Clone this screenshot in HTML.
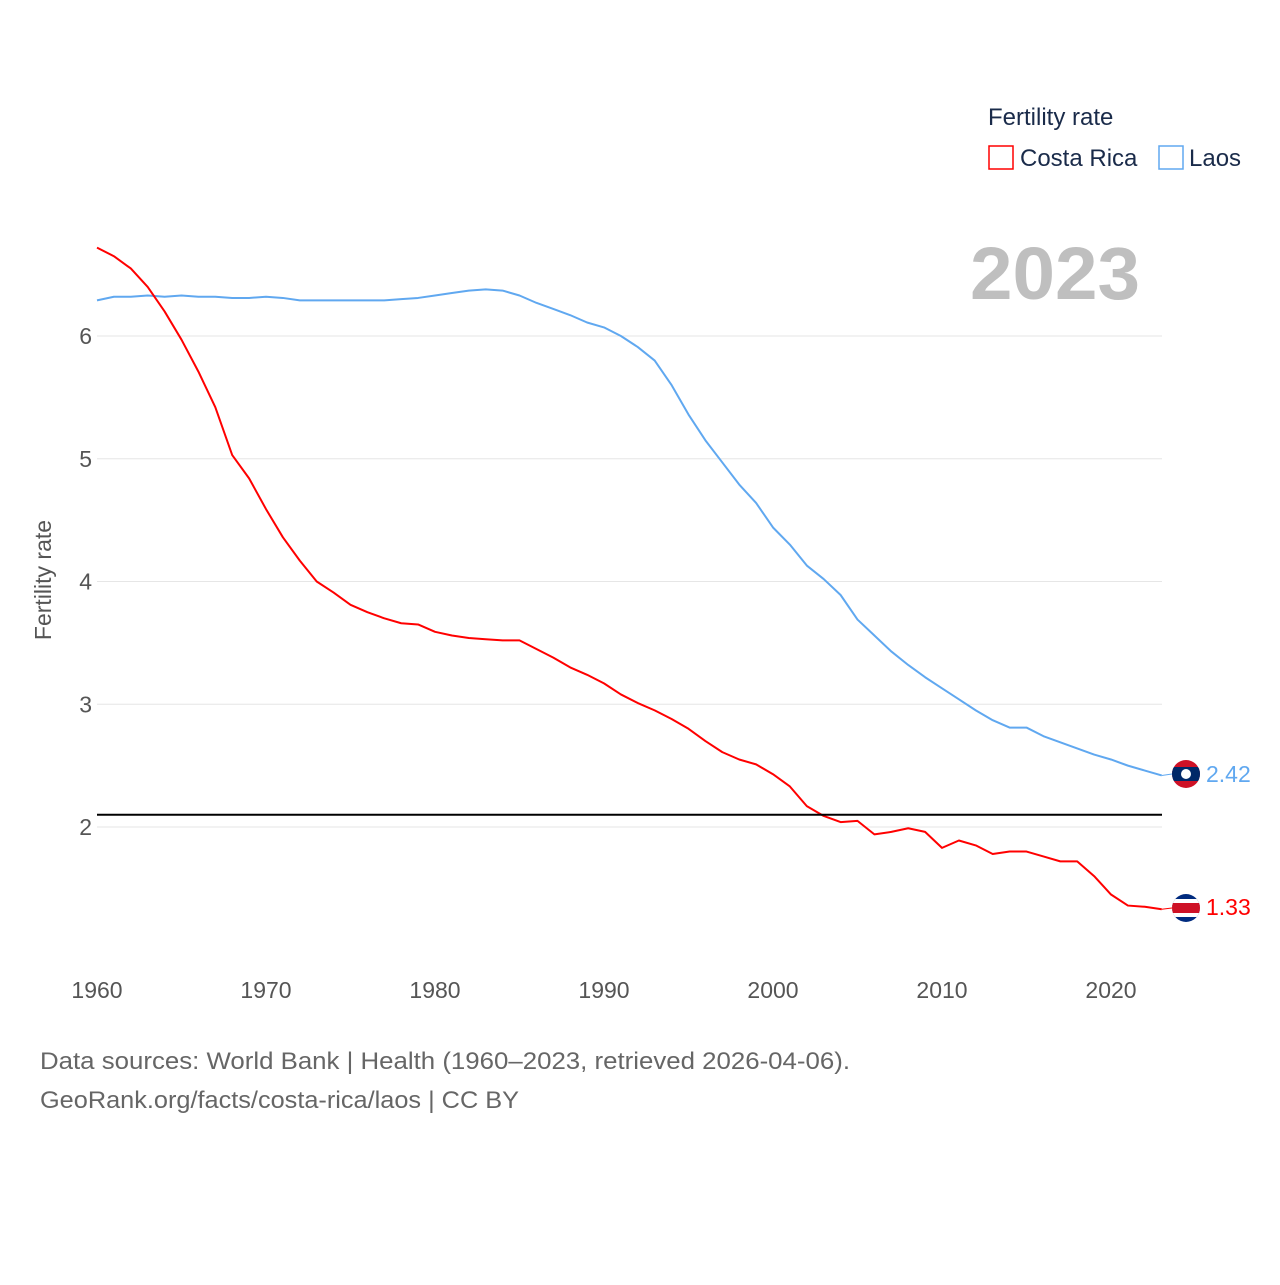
<!DOCTYPE html>
<html><head><meta charset="utf-8"><style>
body{margin:0;background:#fff;font-family:"Liberation Sans",sans-serif;}
svg text{font-family:"Liberation Sans",sans-serif;}
</style></head><body>
<svg id="chart" width="1280" height="1280" viewBox="0 0 1280 1280" xmlns="http://www.w3.org/2000/svg">
<defs>
<clipPath id="clipLaos"><circle cx="1186" cy="774" r="14"/></clipPath>
<clipPath id="clipCR"><circle cx="1186" cy="908" r="14"/></clipPath>
</defs>
<rect width="1280" height="1280" fill="#fff"/>
<g id="grid"></g>
<g id="series"></g>
<text x="988" y="125" font-size="24" fill="#1a2b4a">Fertility rate</text>
<g><rect x="989" y="146" width="24" height="23" fill="none" stroke="#f00" stroke-width="1.5"/><text x="1020" y="166" font-size="24" fill="#1a2b4a">Costa Rica</text></g>
<g><rect x="1159" y="146" width="24" height="23" fill="none" stroke="#60a8f0" stroke-width="1.5"/><text x="1189" y="166" font-size="24" fill="#1a2b4a">Laos</text></g>
<text x="1140" y="299" font-size="74" font-weight="bold" fill="#bfbfbf" text-anchor="end" textLength="170" lengthAdjust="spacingAndGlyphs">2023</text>
<text transform="translate(51,580) rotate(-90)" font-size="23" fill="#555" text-anchor="middle">Fertility rate</text>
<text x="40" y="1069" font-size="24" fill="#666" textLength="810" lengthAdjust="spacingAndGlyphs">Data sources: World Bank | Health (1960–2023, retrieved 2026-04-06).</text>
<text x="40" y="1108" font-size="24" fill="#666" textLength="479" lengthAdjust="spacingAndGlyphs">GeoRank.org/facts/costa-rica/laos | CC BY</text>
</svg>
<script>
const years=[];for(let y=1960;y<=2023;y++)years.push(y);
const costaRica=[6.72,6.65,6.55,6.40,6.20,5.97,5.71,5.42,5.03,4.84,4.59,4.36,4.17,4.00,3.91,3.81,3.75,3.70,3.66,3.65,3.59,3.56,3.54,3.53,3.52,3.52,3.45,3.38,3.30,3.24,3.17,3.08,3.01,2.95,2.88,2.80,2.70,2.61,2.55,2.51,2.43,2.33,2.17,2.09,2.04,2.05,1.94,1.96,1.99,1.96,1.83,1.89,1.85,1.78,1.80,1.80,1.76,1.72,1.72,1.60,1.45,1.36,1.35,1.33];
const laos=[6.29,6.32,6.32,6.33,6.32,6.33,6.32,6.32,6.31,6.31,6.32,6.31,6.29,6.29,6.29,6.29,6.29,6.29,6.30,6.31,6.33,6.35,6.37,6.38,6.37,6.33,6.27,6.22,6.17,6.11,6.07,6.00,5.91,5.80,5.60,5.36,5.15,4.97,4.79,4.64,4.44,4.30,4.13,4.02,3.89,3.69,3.56,3.43,3.32,3.22,3.13,3.04,2.95,2.87,2.81,2.81,2.74,2.69,2.64,2.59,2.55,2.50,2.46,2.42];
const yTicks=[2,3,4,5,6];
const xTicks=[1960,1970,1980,1990,2000,2010,2020];
const replacement=[2.1];
const NS="http://www.w3.org/2000/svg";
const X=y=>97+(y-1960)*(1014/60);
const Y=v=>827-(v-2)*122.75;
function mk(t,a,p){const e=document.createElementNS(NS,t);for(const k in a)e.setAttribute(k,a[k]);p.appendChild(e);return e;}
const g=document.getElementById('grid'),s=document.getElementById('series');
yTicks.forEach(v=>{
 const l=mk('line',{x1:97,x2:1162,y1:Y(v),y2:Y(v),stroke:'#e6e6e6','stroke-width':1},g);
 
 
 const t=mk('text',{x:92,y:Y(v)+8,'font-size':23,fill:'#555','text-anchor':'end'},g);t.textContent=v;
 
 
});
xTicks.forEach(v=>{
 const t=mk('text',{x:X(v),y:998,'font-size':23,fill:'#555','text-anchor':'middle'},g);t.textContent=v;
 
 
});
function line(vals,col,name){
 const p=mk('polyline',{points:vals.map((v,i)=>X(years[i])+','+Y(v)).join(' '),fill:'none',stroke:col,'stroke-width':2,'stroke-linejoin':'round'},s);
 
 
}
line(laos,'#60a8f0','laos-line');
line(costaRica,'#f00','costa-rica-line');
const rl=mk('line',{x1:97,x2:1162,y1:Y(replacement[0]),y2:Y(replacement[0]),stroke:'#000','stroke-width':2},s);


const lv=laos[laos.length-1],cv=costaRica[costaRica.length-1];
const fx=1186;
const ly=774, cy=908;
let fl=mk('g',{'clip-path':'url(#clipLaos)'},s);


mk('rect',{x:fx-14,y:ly-14,width:28,height:28,fill:'#ce1126'},fl);
mk('rect',{x:fx-14,y:ly-7,width:28,height:14,fill:'#002868'},fl);
mk('circle',{cx:fx,cy:ly,r:5,fill:'#fff'},fl);
mk('line',{x1:X(2023),x2:fx-14,y1:Y(lv),y2:ly,stroke:'#60a8f0','stroke-width':1},s);
let t=mk('text',{x:1206,y:ly+8,'font-size':23,fill:'#60a8f0'},s);t.textContent=lv.toFixed(2);


let fc=mk('g',{'clip-path':'url(#clipCR)'},s);


mk('rect',{x:fx-14,y:cy-14,width:28,height:28,fill:'#002b7f'},fc);
mk('rect',{x:fx-14,y:cy-9,width:28,height:18,fill:'#fff'},fc);
mk('rect',{x:fx-14,y:cy-5,width:28,height:10,fill:'#ce1126'},fc);
mk('line',{x1:X(2023),x2:fx-14,y1:Y(cv),y2:cy,stroke:'#f00','stroke-width':1},s);
t=mk('text',{x:1206,y:cy+7,'font-size':23,fill:'#f00'},s);t.textContent=cv.toFixed(2);


</script>
</body></html>
